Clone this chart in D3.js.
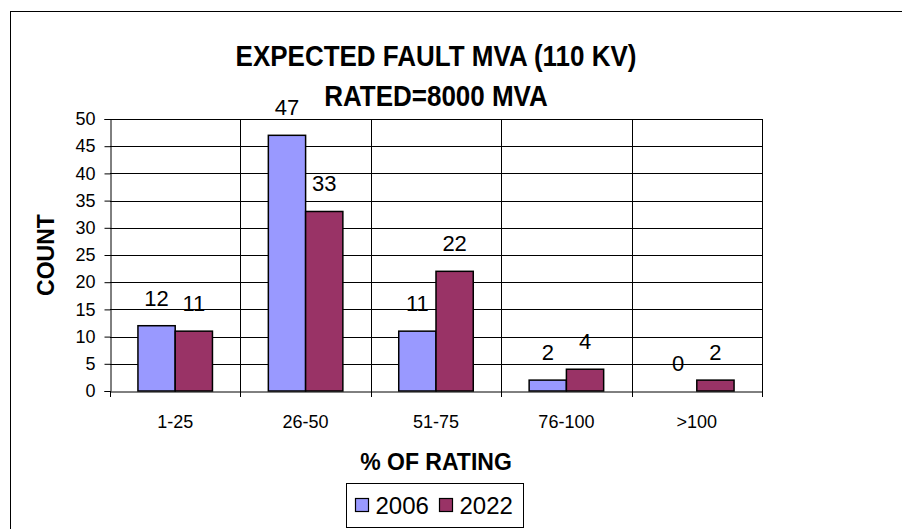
<!DOCTYPE html>
<html>
<head>
<meta charset="utf-8">
<script src="https://cdn.jsdelivr.net/npm/d3@7"></script>
<style>
  body { margin: 0; background: #fff; }
  svg text { font-family: "Liberation Sans", Arial, sans-serif; }
</style>
</head>
<body>
<div id="chart"></div>
<script>
// Data
const categories = ["1-25", "26-50", "51-75", "76-100", ">100"];
const seriesNames = ["2006", "2022"];
const values2006 = [12, 47, 11, 2, 0];
const values2022 = [11, 33, 22, 4, 2];
const yTicks = [0, 5, 10, 15, 20, 25, 30, 35, 40, 45, 50];
const titleLines = ["EXPECTED FAULT MVA (110 KV)", "RATED=8000 MVA"];

const canvWidth = 902, canvHeight = 529;
const margin = {top: 119, right: 140, bottom: 138, left: 110};
const width = canvWidth - margin.left - margin.right;
const height = canvHeight - margin.top - margin.bottom;
const colors = {"2006": "#9999ff", "2022": "#993366"};

const svg = d3.select("#chart")
    .append("svg")
    .attr("width", canvWidth)
    .attr("height", canvHeight);

// chart area border (cut off at right and bottom like the picture)
svg.append("rect")
    .attr("x", 10.5).attr("y", 11.5)
    .attr("width", 1000).attr("height", 1000)
    .attr("fill", "none")
    .attr("stroke", "#000")
    .attr("stroke-width", 1);

const g = svg.append("g")
    .attr("transform", `translate(${margin.left},${margin.top})`);

// Scales
const x = d3.scaleBand()
    .domain(categories)
    .range([0, width]);

const x1 = d3.scaleBand()
    .domain(seriesNames)
    .range([0, x.bandwidth()])
    .paddingOuter(0.75);

const y = d3.scaleLinear()
    .domain([0, 50])
    .range([height, 0]);

// Gridlines
g.append("g")
    .selectAll("line")
    .data(yTicks.slice(1))
    .join("line")
    .attr("x1", 0).attr("x2", width)
    .attr("y1", d => Math.round(y(d)) + 0.5)
    .attr("y2", d => Math.round(y(d)) + 0.5)
    .attr("stroke", "#000");

g.append("g")
    .selectAll("line")
    .data(d3.range(1, categories.length + 1))
    .join("line")
    .attr("x1", d => Math.round(x.step() * d) + 0.5)
    .attr("x2", d => Math.round(x.step() * d) + 0.5)
    .attr("y1", 0).attr("y2", height)
    .attr("stroke", "#000");

// Axes
const yAxis = g.append("g")
    .attr("transform", "translate(0.5,0)")
    .call(d3.axisLeft(y).tickValues(yTicks).tickSize(6).tickPadding(9));
yAxis.selectAll("text").style("font-size", "18px").attr("fill", "#000");
yAxis.select(".domain").attr("stroke", "#000");

const xAxis = g.append("g")
    .attr("transform", `translate(0,${height + 0.5})`)
    .call(d3.axisBottom(x).tickSize(0).tickPadding(24));
xAxis.selectAll("text").style("font-size", "18px").attr("fill", "#000");
xAxis.select(".domain").attr("stroke", "#000");

// tick marks between categories
g.append("g")
    .selectAll("line")
    .data(d3.range(categories.length + 1))
    .join("line")
    .attr("x1", d => Math.round(x.step() * d) + 0.5)
    .attr("x2", d => Math.round(x.step() * d) + 0.5)
    .attr("y1", height).attr("y2", height + 6)
    .attr("stroke", "#000");

// Bars
const rows = categories.map((c, i) => ({
    cat: c,
    vals: [{s: "2006", v: values2006[i]}, {s: "2022", v: values2022[i]}]
}));

const groups = g.selectAll("g.cat")
    .data(rows)
    .join("g")
    .attr("class", "cat")
    .attr("transform", d => `translate(${x(d.cat)},0)`);

groups.selectAll("rect")
    .data(d => d.vals.filter(e => e.v > 0))
    .join("rect")
    .attr("x", d => x1(d.s))
    .attr("y", d => y(d.v))
    .attr("width", x1.bandwidth())
    .attr("height", d => height - y(d.v))
    .attr("fill", d => colors[d.s])
    .attr("stroke", "#000")
    .attr("stroke-width", 1.5);

groups.selectAll("text.lbl")
    .data(d => d.vals)
    .join("text")
    .attr("class", "lbl")
    .attr("x", d => x1(d.s) + x1.bandwidth() / 2)
    .attr("y", d => y(d.v) - 20)
    .attr("text-anchor", "middle")
    .style("font-size", "22px")
    .text(d => d.v);

// Titles (glyphs a bit taller than wide, like the picture)
svg.selectAll("text.title")
    .data(titleLines)
    .join("text")
    .attr("class", "title")
    .attr("transform", (d, i) => `translate(${margin.left + width / 2},${66 + i * 40}) scale(1,1.15)`)
    .attr("text-anchor", "middle")
    .style("font-size", "26px")
    .style("font-weight", "bold")
    .text(d => d);

svg.append("text")
    .attr("transform", `translate(54,${margin.top + height / 2}) rotate(-90)`)
    .attr("text-anchor", "middle")
    .style("font-size", "23px")
    .style("font-weight", "bold")
    .text("COUNT");

svg.append("text")
    .attr("x", margin.left + width / 2)
    .attr("y", 470)
    .attr("text-anchor", "middle")
    .style("font-size", "23px")
    .style("font-weight", "bold")
    .text("% OF RATING");

// Legend
const legend = svg.append("g").attr("transform", "translate(346.5,483.5)");
legend.append("rect")
    .attr("width", 177).attr("height", 44)
    .attr("fill", "#fff").attr("stroke", "#000");

const items = legend.selectAll("g.item")
    .data(seriesNames)
    .join("g")
    .attr("class", "item")
    .attr("transform", (d, i) => `translate(${9 + i * 84},15)`);

items.append("rect")
    .attr("width", 13).attr("height", 13)
    .attr("fill", d => colors[d])
    .attr("stroke", "#000")
    .attr("stroke-width", 1.2);

items.append("text")
    .attr("x", 20).attr("y", 15)
    .style("font-size", "24px")
    .text(d => d);
</script>
</body>
</html>
